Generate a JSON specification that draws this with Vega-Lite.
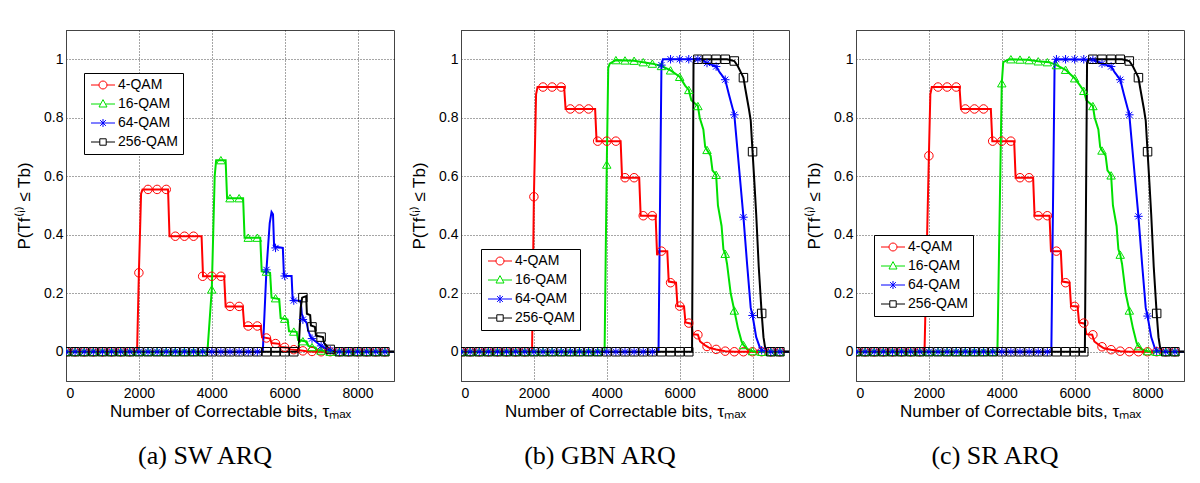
{
  "$schema": "https://vega.github.io/schema/vega-lite/v6.json",
  "autosize": "pad",
  "padding": {"left": 15, "top": 29, "right": 5, "bottom": 5},
  "background": "#ffffff",
  "spacing": 67,
  "bounds": "flush",
  "config": {
    "font": "Liberation Sans",
    "view": {"stroke": "#444444", "strokeWidth": 1},
    "axis": {"domainColor": "#444444", "grid": true, "gridColor": "#000000", "gridDash": [1, 2], "gridOpacity": 0.7, "tickSize": 0, "labelFont": "Liberation Sans", "labelFontSize": 14, "labelColor": "#000000", "titleFont": "Liberation Sans", "titleColor": "#000000", "titleFontWeight": "normal", "titleFontSize": 17},
    "axisX": {"labelPadding": 5, "titlePadding": 3},
    "axisY": {"labelPadding": 3, "titlePadding": 10},
    "legend": {"orient": "none", "strokeColor": "#000000", "fillColor": "#ffffff", "padding": 5, "labelFont": "Liberation Sans", "labelFontSize": 14, "labelColor": "#000000", "symbolSize": 64, "symbolStrokeWidth": 1, "symbolOpacity": 1, "rowPadding": 5, "symbolOffset": 7, "labelOffset": 8, "cornerRadius": 0},
    "title": {"font": "Liberation Serif", "fontSize": 26, "fontWeight": "normal", "color": "#000000", "orient": "bottom", "offset": 24, "dx": -25, "anchor": "middle", "baseline": "top"}
  },
  "datasets": {
    "la": [
      {"s":"4-QAM","x":0,"y":0},{"s":"4-QAM","x":1950,"y":0},{"s":"4-QAM","x":2000,"y":0.27},{"s":"4-QAM","x":2060,"y":0.54},{"s":"4-QAM","x":2100,"y":0.555},{"s":"4-QAM","x":2800,"y":0.555},{"s":"4-QAM","x":2840,"y":0.395},{"s":"4-QAM","x":3720,"y":0.395},{"s":"4-QAM","x":3760,"y":0.258},{"s":"4-QAM","x":4340,"y":0.258},{"s":"4-QAM","x":4380,"y":0.155},{"s":"4-QAM","x":4850,"y":0.155},{"s":"4-QAM","x":4890,"y":0.088},{"s":"4-QAM","x":5340,"y":0.088},{"s":"4-QAM","x":5380,"y":0.05},{"s":"4-QAM","x":5600,"y":0.045},{"s":"4-QAM","x":5640,"y":0.03},{"s":"4-QAM","x":5850,"y":0.027},{"s":"4-QAM","x":5890,"y":0.016},{"s":"4-QAM","x":6100,"y":0.014},{"s":"4-QAM","x":6150,"y":0.008},{"s":"4-QAM","x":6400,"y":0.005},{"s":"4-QAM","x":6600,"y":0.002},{"s":"4-QAM","x":6800,"y":0},{"s":"4-QAM","x":9000,"y":0},
      {"s":"16-QAM","x":0,"y":0},{"s":"16-QAM","x":3880,"y":0},{"s":"16-QAM","x":4000,"y":0.213},{"s":"16-QAM","x":4080,"y":0.6},{"s":"16-QAM","x":4120,"y":0.655},{"s":"16-QAM","x":4380,"y":0.655},{"s":"16-QAM","x":4420,"y":0.525},{"s":"16-QAM","x":4860,"y":0.525},{"s":"16-QAM","x":4900,"y":0.39},{"s":"16-QAM","x":5330,"y":0.39},{"s":"16-QAM","x":5370,"y":0.275},{"s":"16-QAM","x":5600,"y":0.27},{"s":"16-QAM","x":5640,"y":0.185},{"s":"16-QAM","x":5850,"y":0.18},{"s":"16-QAM","x":5890,"y":0.115},{"s":"16-QAM","x":6080,"y":0.11},{"s":"16-QAM","x":6120,"y":0.07},{"s":"16-QAM","x":6330,"y":0.068},{"s":"16-QAM","x":6370,"y":0.04},{"s":"16-QAM","x":6600,"y":0.035},{"s":"16-QAM","x":6650,"y":0.02},{"s":"16-QAM","x":6850,"y":0.014},{"s":"16-QAM","x":6900,"y":0.006},{"s":"16-QAM","x":7100,"y":0.003},{"s":"16-QAM","x":7250,"y":0},{"s":"16-QAM","x":9000,"y":0},
      {"s":"64-QAM","x":0,"y":0},{"s":"64-QAM","x":5400,"y":0},{"s":"64-QAM","x":5500,"y":0.28},{"s":"64-QAM","x":5590,"y":0.44},{"s":"64-QAM","x":5640,"y":0.478},{"s":"64-QAM","x":5680,"y":0.47},{"s":"64-QAM","x":5710,"y":0.36},{"s":"64-QAM","x":5950,"y":0.355},{"s":"64-QAM","x":5980,"y":0.26},{"s":"64-QAM","x":6190,"y":0.259},{"s":"64-QAM","x":6220,"y":0.176},{"s":"64-QAM","x":6440,"y":0.174},{"s":"64-QAM","x":6470,"y":0.13},{"s":"64-QAM","x":6520,"y":0.11},{"s":"64-QAM","x":6600,"y":0.1},{"s":"64-QAM","x":6650,"y":0.07},{"s":"64-QAM","x":6720,"y":0.05},{"s":"64-QAM","x":6800,"y":0.04},{"s":"64-QAM","x":6900,"y":0.03},{"s":"64-QAM","x":7000,"y":0.02},{"s":"64-QAM","x":7150,"y":0.01},{"s":"64-QAM","x":7250,"y":0.005},{"s":"64-QAM","x":7400,"y":0},{"s":"64-QAM","x":9000,"y":0},
      {"s":"256-QAM","x":0,"y":0},{"s":"256-QAM","x":6380,"y":0},{"s":"256-QAM","x":6440,"y":0.15},{"s":"256-QAM","x":6480,"y":0.185},{"s":"256-QAM","x":6590,"y":0.19},{"s":"256-QAM","x":6610,"y":0.13},{"s":"256-QAM","x":6700,"y":0.125},{"s":"256-QAM","x":6720,"y":0.09},{"s":"256-QAM","x":6830,"y":0.085},{"s":"256-QAM","x":6860,"y":0.055},{"s":"256-QAM","x":7050,"y":0.05},{"s":"256-QAM","x":7080,"y":0.03},{"s":"256-QAM","x":7200,"y":0.012},{"s":"256-QAM","x":7300,"y":0.003},{"s":"256-QAM","x":7400,"y":0},{"s":"256-QAM","x":9000,"y":0}
    ],
    "lb": [
      {"s":"4-QAM","x":0,"y":0},{"s":"4-QAM","x":1950,"y":0},{"s":"4-QAM","x":2000,"y":0.53},{"s":"4-QAM","x":2060,"y":0.88},{"s":"4-QAM","x":2100,"y":0.905},{"s":"4-QAM","x":2830,"y":0.905},{"s":"4-QAM","x":2870,"y":0.83},{"s":"4-QAM","x":3680,"y":0.83},{"s":"4-QAM","x":3720,"y":0.72},{"s":"4-QAM","x":4380,"y":0.72},{"s":"4-QAM","x":4420,"y":0.595},{"s":"4-QAM","x":4890,"y":0.595},{"s":"4-QAM","x":4930,"y":0.465},{"s":"4-QAM","x":5340,"y":0.465},{"s":"4-QAM","x":5380,"y":0.33},{"s":"4-QAM","x":5420,"y":0.344},{"s":"4-QAM","x":5660,"y":0.344},{"s":"4-QAM","x":5700,"y":0.24},{"s":"4-QAM","x":5900,"y":0.236},{"s":"4-QAM","x":5940,"y":0.156},{"s":"4-QAM","x":6120,"y":0.155},{"s":"4-QAM","x":6160,"y":0.1},{"s":"4-QAM","x":6320,"y":0.096},{"s":"4-QAM","x":6360,"y":0.06},{"s":"4-QAM","x":6500,"y":0.058},{"s":"4-QAM","x":6560,"y":0.035},{"s":"4-QAM","x":6700,"y":0.022},{"s":"4-QAM","x":6800,"y":0.014},{"s":"4-QAM","x":7000,"y":0.008},{"s":"4-QAM","x":7250,"y":0.002},{"s":"4-QAM","x":7500,"y":0},{"s":"4-QAM","x":9000,"y":0},
      {"s":"16-QAM","x":0,"y":0},{"s":"16-QAM","x":3940,"y":0},{"s":"16-QAM","x":4000,"y":0.64},{"s":"16-QAM","x":4040,"y":0.97},{"s":"16-QAM","x":4080,"y":0.985},{"s":"16-QAM","x":4250,"y":0.997},{"s":"16-QAM","x":4750,"y":0.995},{"s":"16-QAM","x":5000,"y":0.99},{"s":"16-QAM","x":5250,"y":0.985},{"s":"16-QAM","x":5500,"y":0.977},{"s":"16-QAM","x":5750,"y":0.962},{"s":"16-QAM","x":6000,"y":0.94},{"s":"16-QAM","x":6150,"y":0.91},{"s":"16-QAM","x":6250,"y":0.895},{"s":"16-QAM","x":6320,"y":0.86},{"s":"16-QAM","x":6500,"y":0.84},{"s":"16-QAM","x":6550,"y":0.8},{"s":"16-QAM","x":6650,"y":0.76},{"s":"16-QAM","x":6700,"y":0.7},{"s":"16-QAM","x":6750,"y":0.69},{"s":"16-QAM","x":6850,"y":0.67},{"s":"16-QAM","x":6900,"y":0.62},{"s":"16-QAM","x":7000,"y":0.605},{"s":"16-QAM","x":7050,"y":0.5},{"s":"16-QAM","x":7150,"y":0.43},{"s":"16-QAM","x":7200,"y":0.35},{"s":"16-QAM","x":7250,"y":0.335},{"s":"16-QAM","x":7300,"y":0.3},{"s":"16-QAM","x":7400,"y":0.2},{"s":"16-QAM","x":7500,"y":0.141},{"s":"16-QAM","x":7600,"y":0.08},{"s":"16-QAM","x":7700,"y":0.035},{"s":"16-QAM","x":7750,"y":0.023},{"s":"16-QAM","x":7850,"y":0.01},{"s":"16-QAM","x":8000,"y":0.002},{"s":"16-QAM","x":8100,"y":0},{"s":"16-QAM","x":9000,"y":0},
      {"s":"64-QAM","x":0,"y":0},{"s":"64-QAM","x":5420,"y":0},{"s":"64-QAM","x":5500,"y":0.98},{"s":"64-QAM","x":5540,"y":1.0},{"s":"64-QAM","x":6600,"y":1.0},{"s":"64-QAM","x":6750,"y":0.987},{"s":"64-QAM","x":6900,"y":0.98},{"s":"64-QAM","x":7000,"y":0.975},{"s":"64-QAM","x":7100,"y":0.955},{"s":"64-QAM","x":7250,"y":0.93},{"s":"64-QAM","x":7350,"y":0.88},{"s":"64-QAM","x":7500,"y":0.81},{"s":"64-QAM","x":7550,"y":0.74},{"s":"64-QAM","x":7650,"y":0.6},{"s":"64-QAM","x":7750,"y":0.46},{"s":"64-QAM","x":7850,"y":0.3},{"s":"64-QAM","x":7950,"y":0.15},{"s":"64-QAM","x":8000,"y":0.124},{"s":"64-QAM","x":8100,"y":0.05},{"s":"64-QAM","x":8200,"y":0.015},{"s":"64-QAM","x":8300,"y":0.002},{"s":"64-QAM","x":8400,"y":0},{"s":"64-QAM","x":9000,"y":0},
      {"s":"256-QAM","x":0,"y":0},{"s":"256-QAM","x":6340,"y":0},{"s":"256-QAM","x":6380,"y":0.99},{"s":"256-QAM","x":6420,"y":1.0},{"s":"256-QAM","x":7300,"y":1.0},{"s":"256-QAM","x":7500,"y":0.994},{"s":"256-QAM","x":7600,"y":0.975},{"s":"256-QAM","x":7700,"y":0.95},{"s":"256-QAM","x":7750,"y":0.937},{"s":"256-QAM","x":7800,"y":0.9},{"s":"256-QAM","x":7900,"y":0.83},{"s":"256-QAM","x":7950,"y":0.79},{"s":"256-QAM","x":8000,"y":0.684},{"s":"256-QAM","x":8050,"y":0.58},{"s":"256-QAM","x":8100,"y":0.47},{"s":"256-QAM","x":8170,"y":0.29},{"s":"256-QAM","x":8250,"y":0.131},{"s":"256-QAM","x":8300,"y":0.05},{"s":"256-QAM","x":8350,"y":0.01},{"s":"256-QAM","x":8400,"y":0},{"s":"256-QAM","x":9000,"y":0}
    ],
    "lc": [
      {"s":"4-QAM","x":0,"y":0},{"s":"4-QAM","x":1880,"y":0},{"s":"4-QAM","x":2000,"y":0.67},{"s":"4-QAM","x":2040,"y":0.88},{"s":"4-QAM","x":2080,"y":0.905},{"s":"4-QAM","x":2840,"y":0.905},{"s":"4-QAM","x":2880,"y":0.83},{"s":"4-QAM","x":3700,"y":0.83},{"s":"4-QAM","x":3740,"y":0.72},{"s":"4-QAM","x":4340,"y":0.72},{"s":"4-QAM","x":4380,"y":0.595},{"s":"4-QAM","x":4860,"y":0.595},{"s":"4-QAM","x":4900,"y":0.465},{"s":"4-QAM","x":5310,"y":0.465},{"s":"4-QAM","x":5350,"y":0.344},{"s":"4-QAM","x":5620,"y":0.344},{"s":"4-QAM","x":5660,"y":0.24},{"s":"4-QAM","x":5860,"y":0.236},{"s":"4-QAM","x":5900,"y":0.156},{"s":"4-QAM","x":6080,"y":0.155},{"s":"4-QAM","x":6120,"y":0.1},{"s":"4-QAM","x":6280,"y":0.096},{"s":"4-QAM","x":6320,"y":0.06},{"s":"4-QAM","x":6480,"y":0.058},{"s":"4-QAM","x":6540,"y":0.035},{"s":"4-QAM","x":6700,"y":0.02},{"s":"4-QAM","x":6800,"y":0.012},{"s":"4-QAM","x":7000,"y":0.007},{"s":"4-QAM","x":7250,"y":0.002},{"s":"4-QAM","x":7500,"y":0},{"s":"4-QAM","x":9000,"y":0},
      {"s":"16-QAM","x":0,"y":0},{"s":"16-QAM","x":3880,"y":0},{"s":"16-QAM","x":4000,"y":0.918},{"s":"16-QAM","x":4040,"y":0.99},{"s":"16-QAM","x":4200,"y":1.0},{"s":"16-QAM","x":4700,"y":0.998},{"s":"16-QAM","x":5000,"y":0.993},{"s":"16-QAM","x":5300,"y":0.99},{"s":"16-QAM","x":5500,"y":0.98},{"s":"16-QAM","x":5750,"y":0.964},{"s":"16-QAM","x":6000,"y":0.935},{"s":"16-QAM","x":6150,"y":0.91},{"s":"16-QAM","x":6250,"y":0.892},{"s":"16-QAM","x":6320,"y":0.86},{"s":"16-QAM","x":6500,"y":0.84},{"s":"16-QAM","x":6550,"y":0.8},{"s":"16-QAM","x":6650,"y":0.76},{"s":"16-QAM","x":6700,"y":0.7},{"s":"16-QAM","x":6750,"y":0.688},{"s":"16-QAM","x":6850,"y":0.67},{"s":"16-QAM","x":6900,"y":0.62},{"s":"16-QAM","x":7000,"y":0.603},{"s":"16-QAM","x":7050,"y":0.5},{"s":"16-QAM","x":7150,"y":0.43},{"s":"16-QAM","x":7200,"y":0.35},{"s":"16-QAM","x":7250,"y":0.332},{"s":"16-QAM","x":7300,"y":0.3},{"s":"16-QAM","x":7400,"y":0.2},{"s":"16-QAM","x":7500,"y":0.141},{"s":"16-QAM","x":7600,"y":0.08},{"s":"16-QAM","x":7700,"y":0.03},{"s":"16-QAM","x":7750,"y":0.019},{"s":"16-QAM","x":7850,"y":0.008},{"s":"16-QAM","x":8000,"y":0.002},{"s":"16-QAM","x":8100,"y":0},{"s":"16-QAM","x":9000,"y":0},
      {"s":"64-QAM","x":0,"y":0},{"s":"64-QAM","x":5360,"y":0},{"s":"64-QAM","x":5450,"y":0.99},{"s":"64-QAM","x":5480,"y":1.0},{"s":"64-QAM","x":6500,"y":0.998},{"s":"64-QAM","x":6750,"y":0.985},{"s":"64-QAM","x":7000,"y":0.975},{"s":"64-QAM","x":7100,"y":0.955},{"s":"64-QAM","x":7250,"y":0.93},{"s":"64-QAM","x":7350,"y":0.88},{"s":"64-QAM","x":7500,"y":0.81},{"s":"64-QAM","x":7550,"y":0.74},{"s":"64-QAM","x":7650,"y":0.6},{"s":"64-QAM","x":7750,"y":0.463},{"s":"64-QAM","x":7850,"y":0.3},{"s":"64-QAM","x":7950,"y":0.15},{"s":"64-QAM","x":8000,"y":0.122},{"s":"64-QAM","x":8100,"y":0.05},{"s":"64-QAM","x":8200,"y":0.012},{"s":"64-QAM","x":8300,"y":0.002},{"s":"64-QAM","x":8400,"y":0},{"s":"64-QAM","x":9000,"y":0},
      {"s":"256-QAM","x":0,"y":0},{"s":"256-QAM","x":6280,"y":0},{"s":"256-QAM","x":6340,"y":0.99},{"s":"256-QAM","x":6380,"y":1.0},{"s":"256-QAM","x":7300,"y":1.0},{"s":"256-QAM","x":7500,"y":0.994},{"s":"256-QAM","x":7600,"y":0.975},{"s":"256-QAM","x":7700,"y":0.95},{"s":"256-QAM","x":7750,"y":0.937},{"s":"256-QAM","x":7800,"y":0.9},{"s":"256-QAM","x":7900,"y":0.83},{"s":"256-QAM","x":7950,"y":0.79},{"s":"256-QAM","x":8000,"y":0.684},{"s":"256-QAM","x":8050,"y":0.58},{"s":"256-QAM","x":8100,"y":0.47},{"s":"256-QAM","x":8170,"y":0.29},{"s":"256-QAM","x":8250,"y":0.131},{"s":"256-QAM","x":8300,"y":0.05},{"s":"256-QAM","x":8350,"y":0.01},{"s":"256-QAM","x":8400,"y":0},{"s":"256-QAM","x":9000,"y":0}
    ],
    "ma": [
      {"x":0,"4-QAM":0,"16-QAM":0,"64-QAM":0,"256-QAM":0},{"x":250,"4-QAM":0,"16-QAM":0,"64-QAM":0,"256-QAM":0},{"x":500,"4-QAM":0,"16-QAM":0,"64-QAM":0,"256-QAM":0},{"x":750,"4-QAM":0,"16-QAM":0,"64-QAM":0,"256-QAM":0},{"x":1000,"4-QAM":0,"16-QAM":0,"64-QAM":0,"256-QAM":0},{"x":1250,"4-QAM":0,"16-QAM":0,"64-QAM":0,"256-QAM":0},{"x":1500,"4-QAM":0,"16-QAM":0,"64-QAM":0,"256-QAM":0},{"x":1750,"4-QAM":0,"16-QAM":0,"64-QAM":0,"256-QAM":0},
      {"x":2000,"4-QAM":0.27,"16-QAM":0,"64-QAM":0,"256-QAM":0},{"x":2250,"4-QAM":0.555,"16-QAM":0,"64-QAM":0,"256-QAM":0},{"x":2500,"4-QAM":0.555,"16-QAM":0,"64-QAM":0,"256-QAM":0},{"x":2750,"4-QAM":0.555,"16-QAM":0,"64-QAM":0,"256-QAM":0},{"x":3000,"4-QAM":0.395,"16-QAM":0,"64-QAM":0,"256-QAM":0},{"x":3250,"4-QAM":0.395,"16-QAM":0,"64-QAM":0,"256-QAM":0},{"x":3500,"4-QAM":0.395,"16-QAM":0,"64-QAM":0,"256-QAM":0},{"x":3750,"4-QAM":0.258,"16-QAM":0,"64-QAM":0,"256-QAM":0},
      {"x":4000,"4-QAM":0.258,"16-QAM":0.213,"64-QAM":0,"256-QAM":0},{"x":4250,"4-QAM":0.258,"16-QAM":0.655,"64-QAM":0,"256-QAM":0},{"x":4500,"4-QAM":0.155,"16-QAM":0.525,"64-QAM":0,"256-QAM":0},{"x":4750,"4-QAM":0.155,"16-QAM":0.525,"64-QAM":0,"256-QAM":0},{"x":5000,"4-QAM":0.088,"16-QAM":0.39,"64-QAM":0,"256-QAM":0},{"x":5250,"4-QAM":0.088,"16-QAM":0.39,"64-QAM":0,"256-QAM":0},
      {"x":5500,"4-QAM":0.047,"16-QAM":0.274,"64-QAM":0.28,"256-QAM":0},{"x":5750,"4-QAM":0.028,"16-QAM":0.183,"64-QAM":0.355,"256-QAM":0},{"x":6000,"4-QAM":0.015,"16-QAM":0.113,"64-QAM":0.259,"256-QAM":0},{"x":6250,"4-QAM":0.007,"16-QAM":0.069,"64-QAM":0.175,"256-QAM":0},{"x":6500,"4-QAM":0.003,"16-QAM":0.036,"64-QAM":0.11,"256-QAM":0.185},{"x":6750,"4-QAM":0.001,"16-QAM":0.016,"64-QAM":0.045,"256-QAM":0.085},{"x":7000,"4-QAM":0,"16-QAM":0.004,"64-QAM":0.02,"256-QAM":0.05},{"x":7250,"4-QAM":0,"16-QAM":0,"64-QAM":0.005,"256-QAM":0.008},
      {"x":7500,"4-QAM":0,"16-QAM":0,"64-QAM":0,"256-QAM":0},{"x":7750,"4-QAM":0,"16-QAM":0,"64-QAM":0,"256-QAM":0},{"x":8000,"4-QAM":0,"16-QAM":0,"64-QAM":0,"256-QAM":0},{"x":8250,"4-QAM":0,"16-QAM":0,"64-QAM":0,"256-QAM":0},{"x":8500,"4-QAM":0,"16-QAM":0,"64-QAM":0,"256-QAM":0},{"x":8750,"4-QAM":0,"16-QAM":0,"64-QAM":0,"256-QAM":0}
    ],
    "mb": [
      {"x":0,"4-QAM":0,"16-QAM":0,"64-QAM":0,"256-QAM":0},{"x":250,"4-QAM":0,"16-QAM":0,"64-QAM":0,"256-QAM":0},{"x":500,"4-QAM":0,"16-QAM":0,"64-QAM":0,"256-QAM":0},{"x":750,"4-QAM":0,"16-QAM":0,"64-QAM":0,"256-QAM":0},{"x":1000,"4-QAM":0,"16-QAM":0,"64-QAM":0,"256-QAM":0},{"x":1250,"4-QAM":0,"16-QAM":0,"64-QAM":0,"256-QAM":0},{"x":1500,"4-QAM":0,"16-QAM":0,"64-QAM":0,"256-QAM":0},{"x":1750,"4-QAM":0,"16-QAM":0,"64-QAM":0,"256-QAM":0},
      {"x":2000,"4-QAM":0.53,"16-QAM":0,"64-QAM":0,"256-QAM":0},{"x":2250,"4-QAM":0.905,"16-QAM":0,"64-QAM":0,"256-QAM":0},{"x":2500,"4-QAM":0.905,"16-QAM":0,"64-QAM":0,"256-QAM":0},{"x":2750,"4-QAM":0.905,"16-QAM":0,"64-QAM":0,"256-QAM":0},{"x":3000,"4-QAM":0.83,"16-QAM":0,"64-QAM":0,"256-QAM":0},{"x":3250,"4-QAM":0.83,"16-QAM":0,"64-QAM":0,"256-QAM":0},{"x":3500,"4-QAM":0.83,"16-QAM":0,"64-QAM":0,"256-QAM":0},{"x":3750,"4-QAM":0.72,"16-QAM":0,"64-QAM":0,"256-QAM":0},
      {"x":4000,"4-QAM":0.72,"16-QAM":0.64,"64-QAM":0,"256-QAM":0},{"x":4250,"4-QAM":0.72,"16-QAM":0.997,"64-QAM":0,"256-QAM":0},{"x":4500,"4-QAM":0.595,"16-QAM":0.996,"64-QAM":0,"256-QAM":0},{"x":4750,"4-QAM":0.595,"16-QAM":0.995,"64-QAM":0,"256-QAM":0},{"x":5000,"4-QAM":0.465,"16-QAM":0.99,"64-QAM":0,"256-QAM":0},{"x":5250,"4-QAM":0.465,"16-QAM":0.985,"64-QAM":0,"256-QAM":0},
      {"x":5500,"4-QAM":0.344,"16-QAM":0.977,"64-QAM":0.98,"256-QAM":0},{"x":5750,"4-QAM":0.236,"16-QAM":0.962,"64-QAM":1,"256-QAM":0},{"x":6000,"4-QAM":0.156,"16-QAM":0.94,"64-QAM":1,"256-QAM":0},{"x":6250,"4-QAM":0.098,"16-QAM":0.895,"64-QAM":1,"256-QAM":0},{"x":6500,"4-QAM":0.058,"16-QAM":0.84,"64-QAM":1,"256-QAM":1},{"x":6750,"4-QAM":0.018,"16-QAM":0.69,"64-QAM":0.987,"256-QAM":1},{"x":7000,"4-QAM":0.008,"16-QAM":0.605,"64-QAM":0.975,"256-QAM":1},{"x":7250,"4-QAM":0.002,"16-QAM":0.335,"64-QAM":0.93,"256-QAM":1},
      {"x":7500,"4-QAM":0,"16-QAM":0.141,"64-QAM":0.81,"256-QAM":0.994},{"x":7750,"4-QAM":0,"16-QAM":0.023,"64-QAM":0.46,"256-QAM":0.937},{"x":8000,"4-QAM":0,"16-QAM":0.002,"64-QAM":0.124,"256-QAM":0.684},{"x":8250,"4-QAM":0,"16-QAM":0,"64-QAM":0.005,"256-QAM":0.131},{"x":8500,"4-QAM":0,"16-QAM":0,"64-QAM":0,"256-QAM":0},{"x":8750,"4-QAM":0,"16-QAM":0,"64-QAM":0,"256-QAM":0}
    ],
    "mc": [
      {"x":0,"4-QAM":0,"16-QAM":0,"64-QAM":0,"256-QAM":0},{"x":250,"4-QAM":0,"16-QAM":0,"64-QAM":0,"256-QAM":0},{"x":500,"4-QAM":0,"16-QAM":0,"64-QAM":0,"256-QAM":0},{"x":750,"4-QAM":0,"16-QAM":0,"64-QAM":0,"256-QAM":0},{"x":1000,"4-QAM":0,"16-QAM":0,"64-QAM":0,"256-QAM":0},{"x":1250,"4-QAM":0,"16-QAM":0,"64-QAM":0,"256-QAM":0},{"x":1500,"4-QAM":0,"16-QAM":0,"64-QAM":0,"256-QAM":0},{"x":1750,"4-QAM":0,"16-QAM":0,"64-QAM":0,"256-QAM":0},
      {"x":2000,"4-QAM":0.67,"16-QAM":0,"64-QAM":0,"256-QAM":0},{"x":2250,"4-QAM":0.905,"16-QAM":0,"64-QAM":0,"256-QAM":0},{"x":2500,"4-QAM":0.905,"16-QAM":0,"64-QAM":0,"256-QAM":0},{"x":2750,"4-QAM":0.905,"16-QAM":0,"64-QAM":0,"256-QAM":0},{"x":3000,"4-QAM":0.83,"16-QAM":0,"64-QAM":0,"256-QAM":0},{"x":3250,"4-QAM":0.83,"16-QAM":0,"64-QAM":0,"256-QAM":0},{"x":3500,"4-QAM":0.83,"16-QAM":0,"64-QAM":0,"256-QAM":0},{"x":3750,"4-QAM":0.72,"16-QAM":0,"64-QAM":0,"256-QAM":0},
      {"x":4000,"4-QAM":0.72,"16-QAM":0.918,"64-QAM":0,"256-QAM":0},{"x":4250,"4-QAM":0.72,"16-QAM":1.0,"64-QAM":0,"256-QAM":0},{"x":4500,"4-QAM":0.595,"16-QAM":0.999,"64-QAM":0,"256-QAM":0},{"x":4750,"4-QAM":0.595,"16-QAM":0.997,"64-QAM":0,"256-QAM":0},{"x":5000,"4-QAM":0.465,"16-QAM":0.993,"64-QAM":0,"256-QAM":0},{"x":5250,"4-QAM":0.465,"16-QAM":0.99,"64-QAM":0,"256-QAM":0},
      {"x":5500,"4-QAM":0.344,"16-QAM":0.98,"64-QAM":1,"256-QAM":0},{"x":5750,"4-QAM":0.236,"16-QAM":0.964,"64-QAM":1,"256-QAM":0},{"x":6000,"4-QAM":0.155,"16-QAM":0.935,"64-QAM":1,"256-QAM":0},{"x":6250,"4-QAM":0.098,"16-QAM":0.892,"64-QAM":1,"256-QAM":0},{"x":6500,"4-QAM":0.058,"16-QAM":0.84,"64-QAM":0.998,"256-QAM":1},{"x":6750,"4-QAM":0.017,"16-QAM":0.688,"64-QAM":0.985,"256-QAM":1},{"x":7000,"4-QAM":0.007,"16-QAM":0.603,"64-QAM":0.975,"256-QAM":1},{"x":7250,"4-QAM":0.002,"16-QAM":0.332,"64-QAM":0.93,"256-QAM":1},
      {"x":7500,"4-QAM":0,"16-QAM":0.141,"64-QAM":0.81,"256-QAM":0.994},{"x":7750,"4-QAM":0,"16-QAM":0.019,"64-QAM":0.463,"256-QAM":0.937},{"x":8000,"4-QAM":0,"16-QAM":0.002,"64-QAM":0.122,"256-QAM":0.684},{"x":8250,"4-QAM":0,"16-QAM":0,"64-QAM":0.003,"256-QAM":0.131},{"x":8500,"4-QAM":0,"16-QAM":0,"64-QAM":0,"256-QAM":0},{"x":8750,"4-QAM":0,"16-QAM":0,"64-QAM":0,"256-QAM":0}
    ]
  },
  "hconcat": [
    {
      "width": 328, "height": 351,
      "title": {"text": "(a) SW ARQ"},
      "resolve": {"scale": {"shape": "independent"}, "legend": {"color": "independent", "shape": "independent"}},
      "layer": [
        {"data": {"name": "la"}, "mark": {"type": "line", "strokeWidth": 2, "clip": true},
         "encoding": {
           "x": {"field": "x", "type": "quantitative", "scale": {"domain": [0, 9000], "nice": false, "zero": false}, "axis": {"values": [0, 2000, 4000, 6000, 8000], "format": "d", "title": "Number of Correctable bits, τₘₐₓ"}},
           "y": {"field": "y", "type": "quantitative", "scale": {"domain": [-0.1, 1.1], "nice": false, "zero": false}, "axis": {"values": [0, 0.2, 0.4, 0.6, 0.8, 1], "format": "~g", "title": "P(Tf⁽ⁱ⁾ ≤ Tb)"}},
           "color": {"field": "s", "type": "nominal", "scale": {"domain": ["4-QAM", "16-QAM", "64-QAM", "256-QAM"], "range": ["#ff0000", "#00e000", "#0000ff", "#000000"]}, "legend": null}
         }},
        {"data": {"name": "ma"}, "transform": [{"fold": ["4-QAM", "16-QAM", "64-QAM", "256-QAM"], "as": ["s", "y"]}],
         "mark": {"type": "point", "filled": false, "size": 72, "strokeWidth": 1, "opacity": 1, "clip": true},
         "encoding": {
           "x": {"field": "x", "type": "quantitative"},
           "y": {"field": "y", "type": "quantitative"},
           "color": {"field": "s", "type": "nominal", "scale": {"domain": ["4-QAM", "16-QAM", "64-QAM", "256-QAM"], "range": ["#ff0000", "#00e000", "#0000ff", "#000000"]}, "legend": null},
           "shape": {"field": "s", "type": "nominal", "scale": {"domain": ["4-QAM", "16-QAM", "64-QAM", "256-QAM"], "range": ["circle", "triangle-up", "M-1,0H1M0,-1V1M-0.72,-0.72L0.72,0.72M-0.72,0.72L0.72,-0.72", "square"]}, "legend": null}
         }},
        {"data": {"name": "ma"}, "transform": [{"fold": ["4-QAM", "16-QAM", "64-QAM", "256-QAM"], "as": ["s", "y"]}],
         "mark": {"type": "point", "filled": false, "size": 64, "strokeWidth": 1, "opacity": 0, "clip": true},
         "encoding": {
           "x": {"field": "x", "type": "quantitative"},
           "y": {"field": "y", "type": "quantitative"},
           "color": {"field": "s", "type": "nominal", "scale": {"domain": ["4-QAM", "16-QAM", "64-QAM", "256-QAM"], "range": ["#ff0000", "#00e000", "#0000ff", "#000000"]}, "legend": {"title": null, "legendX": 18, "legendY": 43, "symbolOpacity": 1}},
           "shape": {"field": "s", "type": "nominal", "scale": {"domain": ["4-QAM", "16-QAM", "64-QAM", "256-QAM"], "range": ["M-3,0H-1M1,0H3M1,0A1,1,0,1,1,-1,0A1,1,0,1,1,1,0Z", "M-3,0H-0.6M0.6,0H3M0,-1.1L1,0.75L-1,0.75Z", "M-3,0H3M0,-1V1M-0.72,-0.72L0.72,0.72M-0.72,0.72L0.72,-0.72", "M-3,0H-0.8M0.8,0H3M-0.8,-0.8H0.8V0.8H-0.8Z"]}, "legend": {"title": null, "legendX": 18, "legendY": 43, "symbolOpacity": 1}}
         }}
      ]
    },
    {
      "width": 328, "height": 351,
      "title": {"text": "(b) GBN ARQ"},
      "resolve": {"scale": {"shape": "independent"}, "legend": {"color": "independent", "shape": "independent"}},
      "layer": [
        {"data": {"name": "lb"}, "mark": {"type": "line", "strokeWidth": 2, "clip": true},
         "encoding": {
           "x": {"field": "x", "type": "quantitative", "scale": {"domain": [0, 9000], "nice": false, "zero": false}, "axis": {"values": [0, 2000, 4000, 6000, 8000], "format": "d", "title": "Number of Correctable bits, τₘₐₓ"}},
           "y": {"field": "y", "type": "quantitative", "scale": {"domain": [-0.1, 1.1], "nice": false, "zero": false}, "axis": {"values": [0, 0.2, 0.4, 0.6, 0.8, 1], "format": "~g", "title": "P(Tf⁽ⁱ⁾ ≤ Tb)"}},
           "color": {"field": "s", "type": "nominal", "scale": {"domain": ["4-QAM", "16-QAM", "64-QAM", "256-QAM"], "range": ["#ff0000", "#00e000", "#0000ff", "#000000"]}, "legend": null}
         }},
        {"data": {"name": "mb"}, "transform": [{"fold": ["4-QAM", "16-QAM", "64-QAM", "256-QAM"], "as": ["s", "y"]}],
         "mark": {"type": "point", "filled": false, "size": 72, "strokeWidth": 1, "opacity": 1, "clip": true},
         "encoding": {
           "x": {"field": "x", "type": "quantitative"},
           "y": {"field": "y", "type": "quantitative"},
           "color": {"field": "s", "type": "nominal", "scale": {"domain": ["4-QAM", "16-QAM", "64-QAM", "256-QAM"], "range": ["#ff0000", "#00e000", "#0000ff", "#000000"]}, "legend": null},
           "shape": {"field": "s", "type": "nominal", "scale": {"domain": ["4-QAM", "16-QAM", "64-QAM", "256-QAM"], "range": ["circle", "triangle-up", "M-1,0H1M0,-1V1M-0.72,-0.72L0.72,0.72M-0.72,0.72L0.72,-0.72", "square"]}, "legend": null}
         }},
        {"data": {"name": "mb"}, "transform": [{"fold": ["4-QAM", "16-QAM", "64-QAM", "256-QAM"], "as": ["s", "y"]}],
         "mark": {"type": "point", "filled": false, "size": 64, "strokeWidth": 1, "opacity": 0, "clip": true},
         "encoding": {
           "x": {"field": "x", "type": "quantitative"},
           "y": {"field": "y", "type": "quantitative"},
           "color": {"field": "s", "type": "nominal", "scale": {"domain": ["4-QAM", "16-QAM", "64-QAM", "256-QAM"], "range": ["#ff0000", "#00e000", "#0000ff", "#000000"]}, "legend": {"title": null, "legendX": 20, "legendY": 219, "symbolOpacity": 1}},
           "shape": {"field": "s", "type": "nominal", "scale": {"domain": ["4-QAM", "16-QAM", "64-QAM", "256-QAM"], "range": ["M-3,0H-1M1,0H3M1,0A1,1,0,1,1,-1,0A1,1,0,1,1,1,0Z", "M-3,0H-0.6M0.6,0H3M0,-1.1L1,0.75L-1,0.75Z", "M-3,0H3M0,-1V1M-0.72,-0.72L0.72,0.72M-0.72,0.72L0.72,-0.72", "M-3,0H-0.8M0.8,0H3M-0.8,-0.8H0.8V0.8H-0.8Z"]}, "legend": {"title": null, "legendX": 20, "legendY": 219, "symbolOpacity": 1}}
         }}
      ]
    },
    {
      "width": 328, "height": 351,
      "title": {"text": "(c) SR ARQ"},
      "resolve": {"scale": {"shape": "independent"}, "legend": {"color": "independent", "shape": "independent"}},
      "layer": [
        {"data": {"name": "lc"}, "mark": {"type": "line", "strokeWidth": 2, "clip": true},
         "encoding": {
           "x": {"field": "x", "type": "quantitative", "scale": {"domain": [0, 9000], "nice": false, "zero": false}, "axis": {"values": [0, 2000, 4000, 6000, 8000], "format": "d", "title": "Number of Correctable bits, τₘₐₓ"}},
           "y": {"field": "y", "type": "quantitative", "scale": {"domain": [-0.1, 1.1], "nice": false, "zero": false}, "axis": {"values": [0, 0.2, 0.4, 0.6, 0.8, 1], "format": "~g", "title": "P(Tf⁽ⁱ⁾ ≤ Tb)"}},
           "color": {"field": "s", "type": "nominal", "scale": {"domain": ["4-QAM", "16-QAM", "64-QAM", "256-QAM"], "range": ["#ff0000", "#00e000", "#0000ff", "#000000"]}, "legend": null}
         }},
        {"data": {"name": "mc"}, "transform": [{"fold": ["4-QAM", "16-QAM", "64-QAM", "256-QAM"], "as": ["s", "y"]}],
         "mark": {"type": "point", "filled": false, "size": 72, "strokeWidth": 1, "opacity": 1, "clip": true},
         "encoding": {
           "x": {"field": "x", "type": "quantitative"},
           "y": {"field": "y", "type": "quantitative"},
           "color": {"field": "s", "type": "nominal", "scale": {"domain": ["4-QAM", "16-QAM", "64-QAM", "256-QAM"], "range": ["#ff0000", "#00e000", "#0000ff", "#000000"]}, "legend": null},
           "shape": {"field": "s", "type": "nominal", "scale": {"domain": ["4-QAM", "16-QAM", "64-QAM", "256-QAM"], "range": ["circle", "triangle-up", "M-1,0H1M0,-1V1M-0.72,-0.72L0.72,0.72M-0.72,0.72L0.72,-0.72", "square"]}, "legend": null}
         }},
        {"data": {"name": "mc"}, "transform": [{"fold": ["4-QAM", "16-QAM", "64-QAM", "256-QAM"], "as": ["s", "y"]}],
         "mark": {"type": "point", "filled": false, "size": 64, "strokeWidth": 1, "opacity": 0, "clip": true},
         "encoding": {
           "x": {"field": "x", "type": "quantitative"},
           "y": {"field": "y", "type": "quantitative"},
           "color": {"field": "s", "type": "nominal", "scale": {"domain": ["4-QAM", "16-QAM", "64-QAM", "256-QAM"], "range": ["#ff0000", "#00e000", "#0000ff", "#000000"]}, "legend": {"title": null, "legendX": 18, "legendY": 205, "symbolOpacity": 1}},
           "shape": {"field": "s", "type": "nominal", "scale": {"domain": ["4-QAM", "16-QAM", "64-QAM", "256-QAM"], "range": ["M-3,0H-1M1,0H3M1,0A1,1,0,1,1,-1,0A1,1,0,1,1,1,0Z", "M-3,0H-0.6M0.6,0H3M0,-1.1L1,0.75L-1,0.75Z", "M-3,0H3M0,-1V1M-0.72,-0.72L0.72,0.72M-0.72,0.72L0.72,-0.72", "M-3,0H-0.8M0.8,0H3M-0.8,-0.8H0.8V0.8H-0.8Z"]}, "legend": {"title": null, "legendX": 18, "legendY": 205, "symbolOpacity": 1}}
         }}
      ]
    }
  ]
}
